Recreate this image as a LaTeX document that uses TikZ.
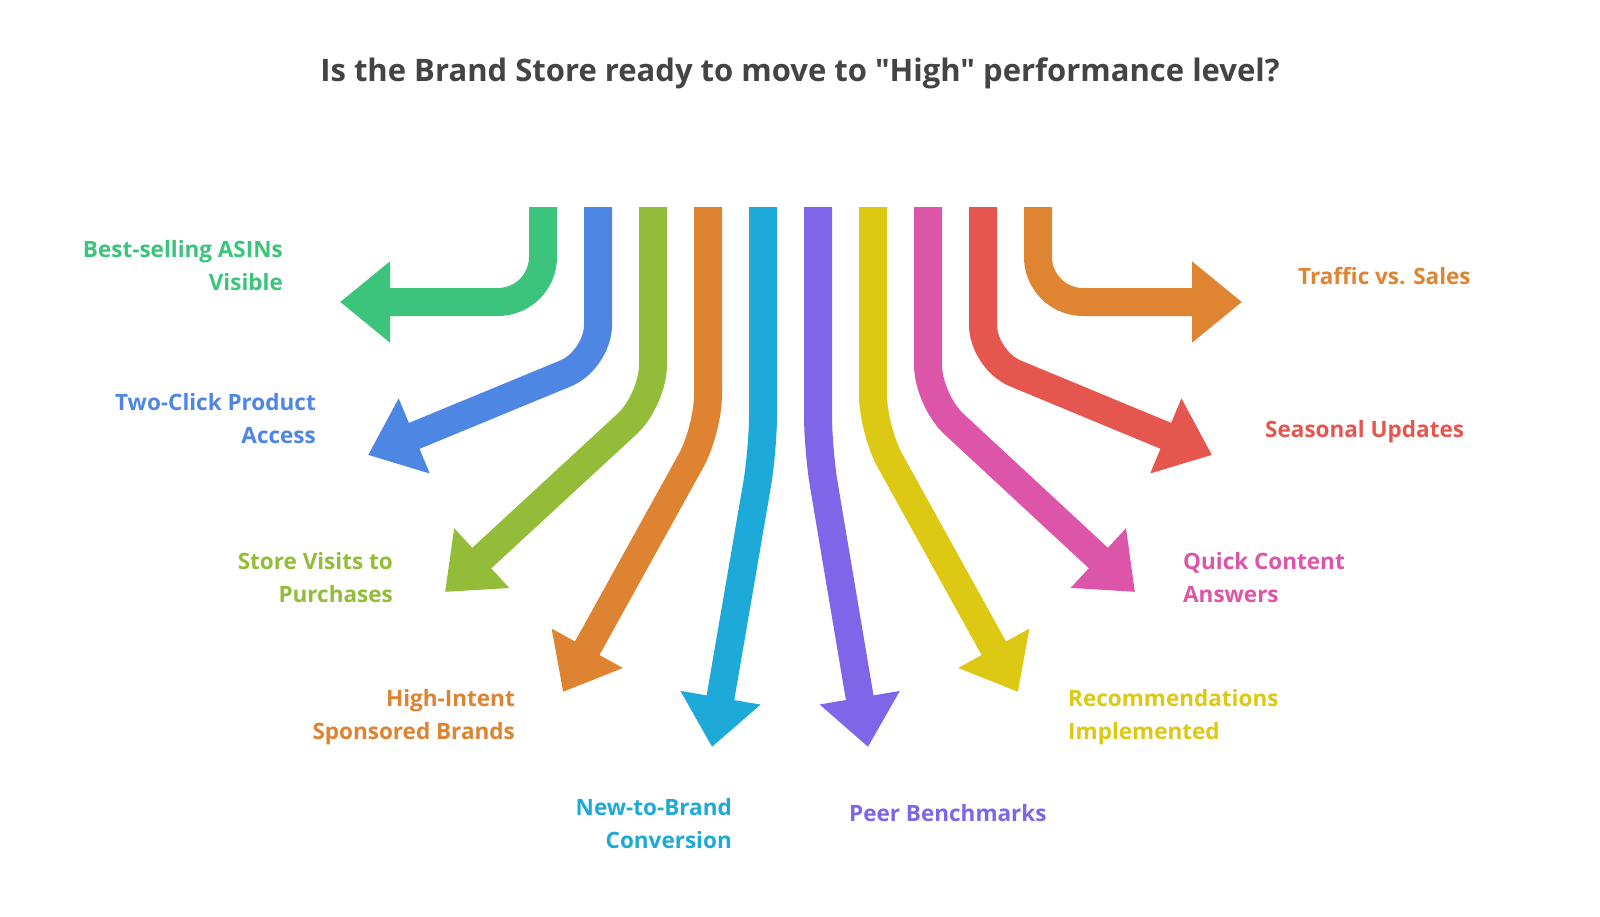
\documentclass[tikz,border=0pt]{standalone}
\usepackage{fontspec}
\setmainfont{Open Sans}
\newfontfamily\titlefont{Open Sans}[Ligatures=ResetAll]
\usetikzlibrary{arrows.meta}
\definecolor{cA}{HTML}{3CC47C}
\definecolor{cB}{HTML}{4E86E4}
\definecolor{cC}{HTML}{93BC38}
\definecolor{cD}{HTML}{DE8332}
\definecolor{cE}{HTML}{1EAAD9}
\definecolor{cF}{HTML}{7F66E8}
\definecolor{cG}{HTML}{DDC813}
\definecolor{cH}{HTML}{DD55A8}
\definecolor{cI}{HTML}{E5564F}
\definecolor{cJ}{HTML}{DF8431}
\definecolor{ttl}{HTML}{444444}
\tikzset{
 flow/.style={line width=28pt, -{Triangle[width=78pt,length=50pt]}},
 lbl/.style={font=\fontsize{22.5}{33}\selectfont\bfseries, inner sep=0pt},
 lblL/.style={lbl, anchor=north east, align=right},
 lblR/.style={lbl, anchor=north west, align=left},
}
\begin{document}
\begin{tikzpicture}[x=1pt,y=-1pt]
\useasboundingbox[fill=white] (0,0) rectangle (1600,916);
\node[font=\titlefont\fontsize{31}{36}\selectfont\bfseries, text=ttl] (title) at (800,73) {Is the Brand Store ready to move to "High" performance level?};
\foreach \n/\x in {a/543,b/598,c/653,d/708,e/763,f/818,g/873,h/928,i/983,j/1038}{\coordinate (s\n) at (\x,207);}
\coordinate (ta) at (340,302); \coordinate (tb) at (368,455);
\coordinate (tc) at (445,592); \coordinate (td) at (563,692);
\coordinate (te) at (712,747); \coordinate (tf) at (868,747);
\coordinate (tg) at (1018,692); \coordinate (th) at (1135,592);
\coordinate (ti) at (1212,455); \coordinate (tj) at (1242,302);
\draw[flow,cA,rounded corners=45pt] (sa) -- (543,302) -- (ta);
\draw[flow,cB,rounded corners=35pt] (sb) -- (598,360) -- (tb);
\draw[flow,cC,rounded corners=35pt] (sc) -- (653,400) -- (tc);
\draw[flow,cD,rounded corners=35pt] (sd) -- (708,430) -- (td);
\draw[flow,cE,rounded corners=35pt] (se) -- (763,450) -- (te);
\draw[flow,cF,rounded corners=35pt] (sf) -- (818,450) -- (tf);
\draw[flow,cG,rounded corners=35pt] (sg) -- (873,430) -- (tg);
\draw[flow,cH,rounded corners=35pt] (sh) -- (928,400) -- (th);
\draw[flow,cI,rounded corners=35pt] (si) -- (983,360) -- (ti);
\draw[flow,cJ,rounded corners=45pt] (sj) -- (1038,302) -- (tj);
\node[lblL,text=cA] (la) at (283,240) {Best-selling ASINs\\Visible};
\node[lblL,text=cB] (lb) at (316,393) {Two-Click Product\\Access};
\node[lblL,text=cC] (lc) at (393,552) {Store Visits to\\Purchases};
\node[lblL,text=cD] (ld) at (515,689) {High-Intent\\Sponsored Brands};
\node[lblL,text=cE] (le) at (732,798) {New-to-Brand\\Conversion};
\node[lblR,text=cF] (lf) at (849,804) {Peer Benchmarks};
\node[lblR,text=cG] (lg) at (1068,689) {Recommendations\\Implemented};
\node[lblR,text=cH] (lh) at (1183,552) {Quick Content\\Answers};
\node[lblR,text=cI] (li) at (1265,420) {Seasonal Updates};
\node[lblR,text=cJ] (lj) at (1298,267) {Traffic vs. Sales};
\end{tikzpicture}
\end{document}
